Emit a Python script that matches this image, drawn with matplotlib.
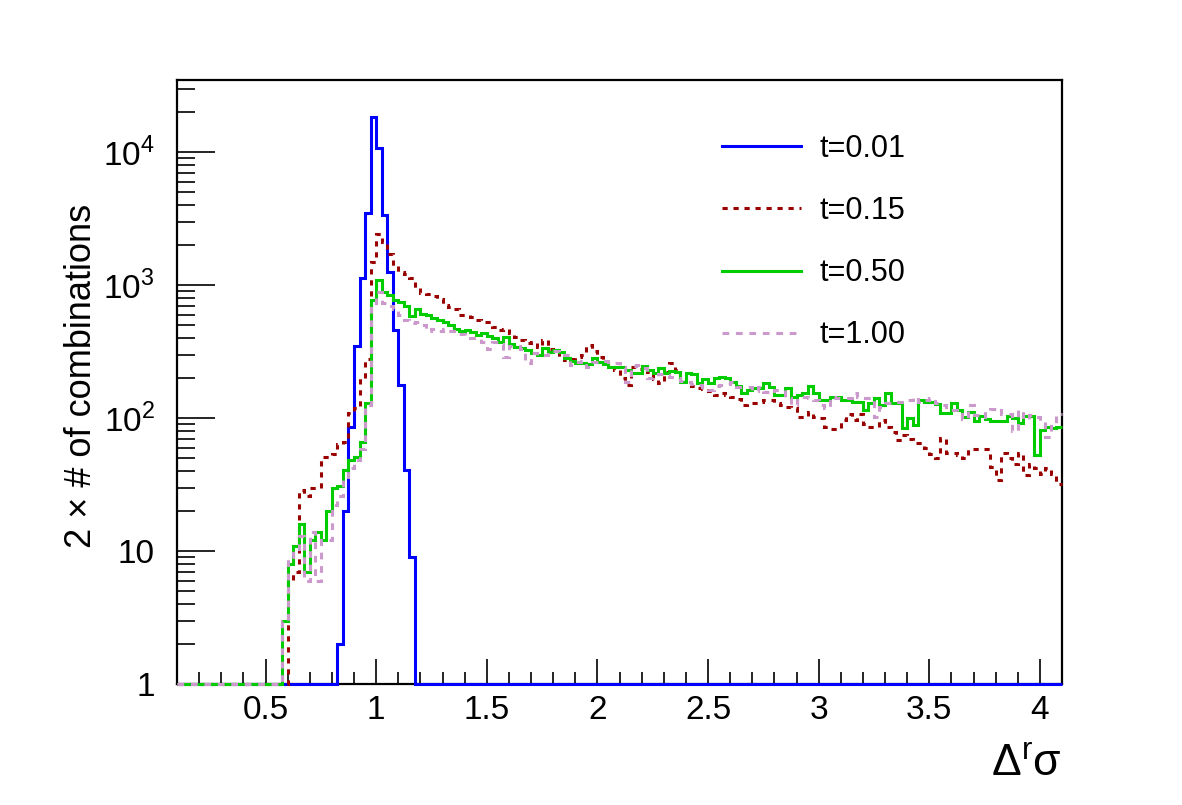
import matplotlib
matplotlib.use("Agg")
import matplotlib.pyplot as plt
import numpy as np
from matplotlib.ticker import MultipleLocator, FixedLocator, LogLocator, NullFormatter, FormatStrFormatter

plt.rcParams['font.family'] = ['Liberation Sans', 'DejaVu Sans']
plt.rcParams['mathtext.fontset'] = 'custom'
plt.rcParams['mathtext.rm'] = 'Liberation Sans'

# histogram binning: 160 bins of 0.025 between 0.1 and 4.1
x_min, x_max, n_bins = 0.1, 4.1, 160

# counts per bin (t=0.01), bins 29..42 non empty
blue_counts = [0] * 29 + [2, 20, 85, 350, 1130, 3500, 18300, 10700, 3370, 1250,
                          460, 176, 41, 9] + [0] * 117

# t=0.15, bins 19..159
red_counts = [0] * 19 + [
    1, 6, 7, 29, 26, 30, 30, 51, 51, 54,
    64, 66, 110, 118, 200, 280, 1500, 2400, 2100, 1700,
    1400, 1250, 1200, 1120, 950, 870, 860, 820, 780, 710,
    680, 665, 600, 590, 575, 550, 530, 525, 485, 460,
    470, 435, 405, 385, 368, 370, 340, 386, 330, 320,
    290, 273, 280, 290, 300, 354, 320, 290, 260, 240,
    230, 200, 177, 240, 235, 240, 220, 195, 184, 220,
    259, 230, 200, 180, 175, 167, 165, 160, 150, 155,
    148, 145, 140, 125, 130, 130, 131, 137, 137, 130,
    125, 120, 118, 102, 102, 111, 101, 100, 85, 82,
    82, 97, 108, 96, 108, 90, 86, 86, 96, 85,
    78, 68, 74, 70, 65, 65, 60, 54, 50, 71,
    55, 55, 53, 50, 58, 58, 58, 58, 43, 34,
    55, 50, 45, 55, 37, 45, 42, 38, 42, 38,
    32]

# t=0.50
green_counts = [0] * 19 + [
    3, 8, 11, 16, 7, 12, 14, 12, 20, 30,
    31, 41, 48, 51, 66, 130, 771, 1090, 890, 840,
    771, 750, 700, 584, 656, 605, 600, 562, 545, 525,
    498, 468, 455, 462, 440, 418, 432, 412, 400, 370,
    410, 360, 340, 334, 325, 310, 298, 334, 315, 325,
    315, 281, 270, 261, 261, 255, 285, 265, 255, 240,
    240, 243, 230, 219, 219, 245, 230, 219, 236, 219,
    226, 222, 188, 219, 215, 182, 197, 182, 200, 203,
    200, 188, 175, 155, 162, 168, 167, 184, 172, 149,
    149, 167, 145, 149, 155, 174, 153, 137, 137, 145,
    145, 137, 137, 133, 133, 115, 129, 141, 125, 155,
    129, 129, 84, 100, 88, 137, 133, 133, 127, 109,
    109, 129, 115, 101, 111, 95, 104, 98, 95, 95,
    95, 104, 100, 91, 103, 103, 53, 81, 86, 84,
    86]

# t=1.00
pink_counts = [0] * 19 + [
    3, 9, 10, 13, 6, 14, 6, 12, 12, 22,
    26, 36, 42, 48, 58, 125, 690, 890, 736, 690,
    660, 600, 545, 521, 530, 500, 455, 470, 455, 465,
    450, 430, 425, 420, 400, 390, 375, 330, 370, 360,
    289, 350, 345, 330, 260, 310, 300, 298, 305, 320,
    310, 300, 251, 265, 270, 240, 262, 265, 270, 262,
    260, 240, 188, 245, 250, 238, 200, 205, 215, 210,
    205, 200, 190, 188, 180, 177, 165, 162, 175, 177,
    180, 185, 170, 170, 170, 160, 172, 158, 153, 162,
    162, 141, 125, 137, 145, 141, 137, 125, 118, 145,
    141, 141, 141, 153, 145, 141, 141, 102, 121, 129,
    129, 133, 133, 137, 145, 133, 137, 141, 129, 125,
    115, 115, 107, 99, 125, 105, 102, 115, 116, 118,
    108, 108, 80, 115, 99, 105, 102, 94, 72, 91,
    108]

labels = ['t=0.01', 't=0.15', 't=0.50', 't=1.00']
y_min, y_max = 1, 3.48e4

edges = np.linspace(x_min, x_max, n_bins + 1)

fig = plt.figure(figsize=(11.82, 8.05), dpi=100)
ax = fig.add_axes([177 / 1182, 121 / 805, 885 / 1182, 604 / 805])

lw = 2.2
series = [
    (blue_counts, '#0000ff', '-'),
    (red_counts, '#990000', (0, (1.7, 1.9))),
    (green_counts, '#00cc00', '-'),
    (pink_counts, '#cc99cc', (0, (2.2, 2.2))),
]
for (counts, col, ls), lab in zip(series, labels):
    # empty bins sit on the lower edge of the log axis, as ROOT draws them
    vals = np.maximum(np.array(counts, dtype=float), y_min)
    ax.stairs(vals, edges, baseline=None, color=col, linestyle=ls, lw=lw,
              label=lab, clip_on=False, zorder=3)

ax.set_yscale('log')
ax.set_xlim(x_min, x_max)
ax.set_ylim(y_min, y_max)

ax.xaxis.set_major_locator(MultipleLocator(0.5))
ax.xaxis.set_minor_locator(MultipleLocator(0.1))
ax.xaxis.set_major_formatter(FormatStrFormatter('%g'))
ax.yaxis.set_major_locator(FixedLocator([1, 10, 100, 1000, 10000]))
ax.set_yticklabels(['1', '10', r'$10^{2}$', r'$10^{3}$', r'$10^{4}$'])
ax.yaxis.set_minor_locator(LogLocator(base=10, subs=np.arange(2, 10)))
ax.yaxis.set_minor_formatter(NullFormatter())

ax.tick_params(axis='x', which='major', direction='in', length=18, width=1.2, top=False, labelsize=24, pad=8)
ax.tick_params(axis='x', which='minor', direction='in', length=9, width=1.2, top=False)
ax.tick_params(axis='y', which='major', direction='in', length=27, width=1.2, right=False, labelsize=24, pad=16)
ax.tick_params(axis='y', which='minor', direction='in', length=13, width=1.2, right=False)
for sp in ax.spines.values():
    sp.set_linewidth(1.6)

ax.set_ylabel('2 × # of combinations', fontsize=26)
ax.yaxis.set_label_coords(-78 / 885, 0.51)
ax.set_xlabel(r'Δ$^{\mathrm{r}}$σ', fontsize=32)
ax.xaxis.set_label_coords(1.0, -80 / 604)
ax.xaxis.label.set_ha('right')
ax.xaxis.label.set_va('center')

ax.legend(loc='upper left', bbox_to_anchor=((722 - 177) / 885, 1 - (148 - 80) / 604 + 0.023),
          frameon=False, fontsize=22, handlelength=2.6, handletextpad=0.6,
          labelspacing=1.05, borderpad=0, borderaxespad=0)

fig.savefig('out.png', dpi=100)
